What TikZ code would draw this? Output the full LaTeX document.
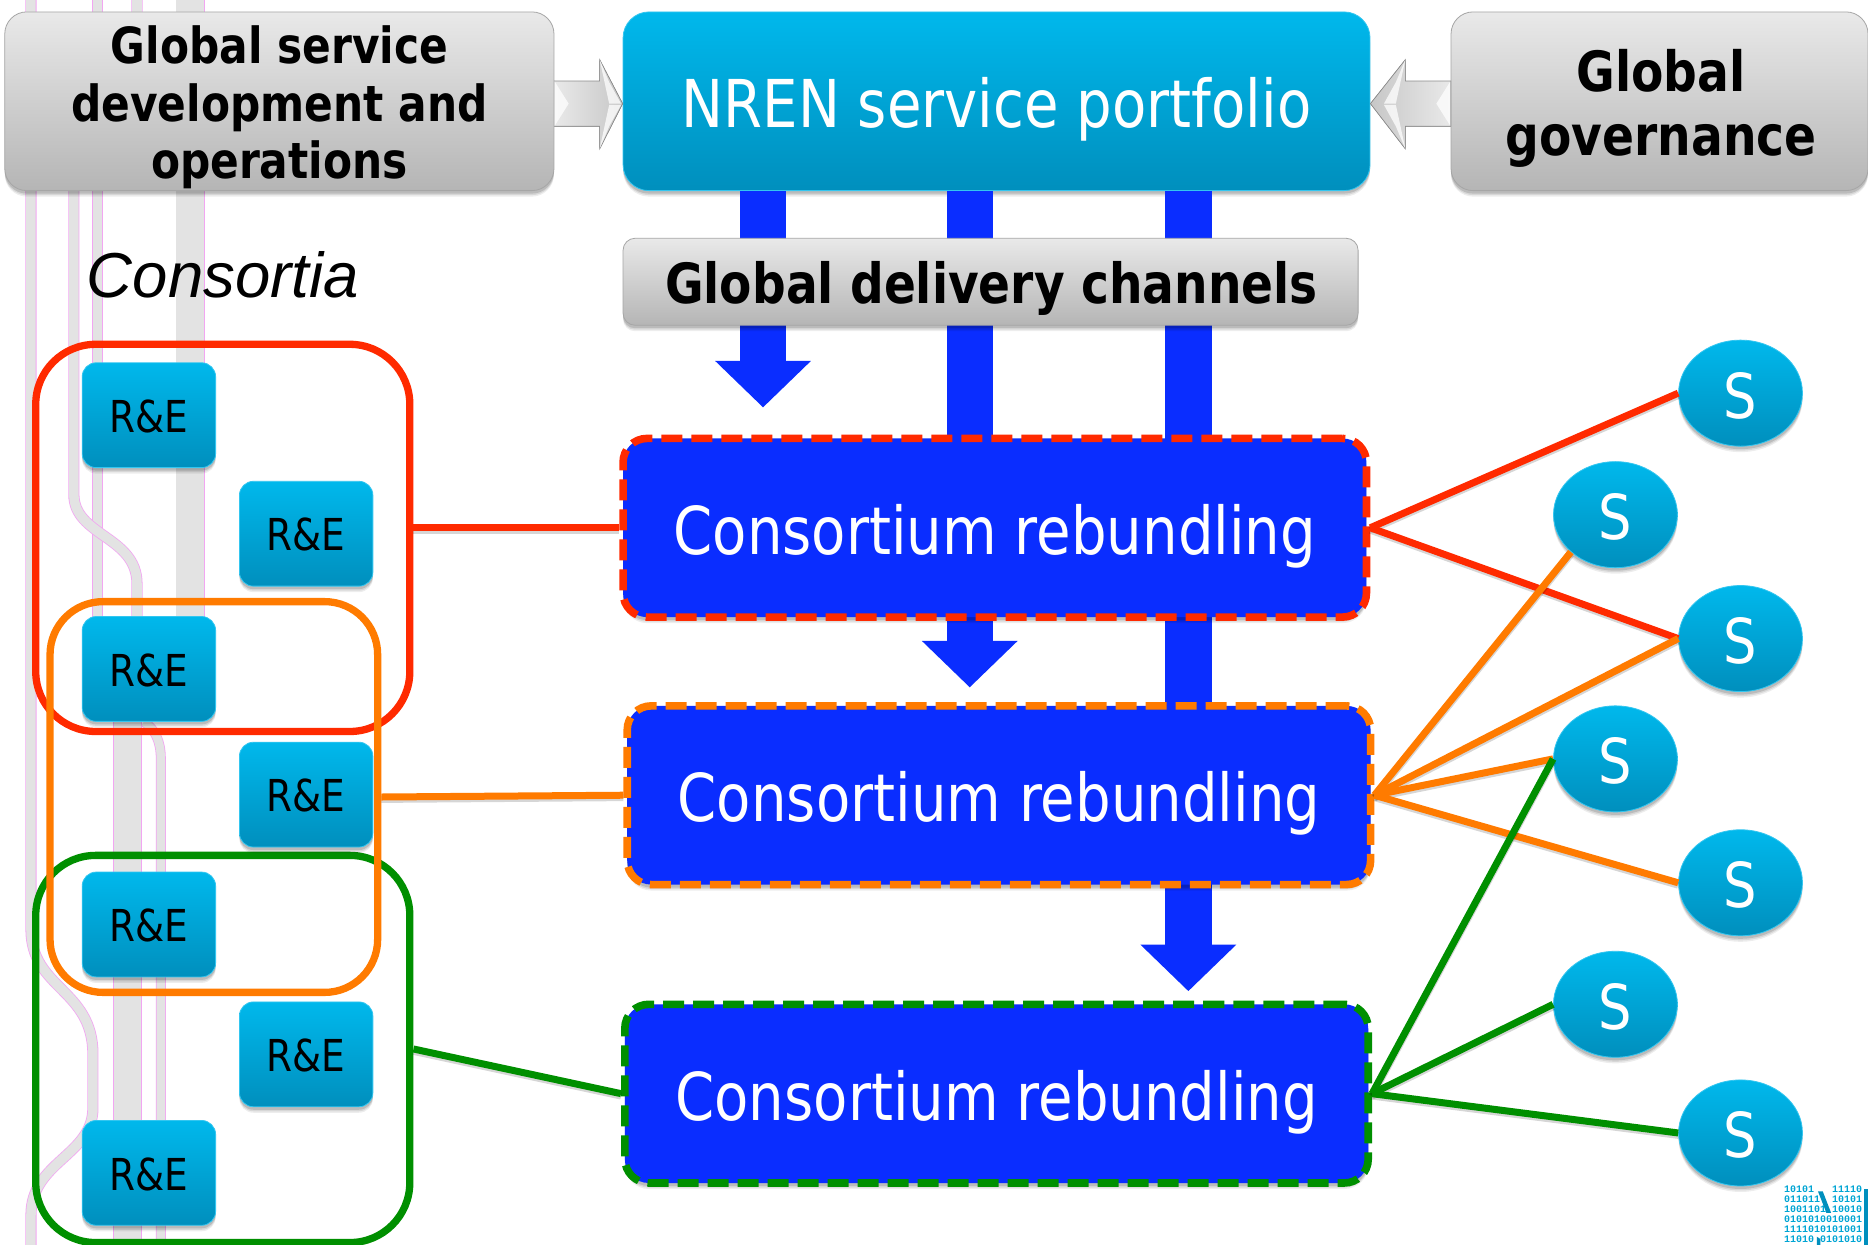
\documentclass[tikz,border=0pt]{standalone}
\usepackage{fontspec}
\setmainfont{Liberation Sans}
\newfontfamily\tah[FakeStretch=0.85]{DejaVu Sans}
\newfontfamily\monof{Liberation Mono}
\usetikzlibrary{shadows,calc,arrows.meta,shapes.geometric}
\newcommand\dnshift[2]{\raisebox{-#1}[\height][\depth]{#2}}
\definecolor{cblue}{HTML}{0A2DFF}
\definecolor{cred}{HTML}{FF2A00}
\definecolor{corange}{HTML}{FF7B00}
\definecolor{cgreen}{HTML}{008F00}
\definecolor{ctop}{HTML}{00B8EC}
\definecolor{cbot}{HTML}{008FBD}
\definecolor{gtop}{HTML}{E9E9E9}
\definecolor{gbot}{HTML}{B5B5B5}
\definecolor{trackc}{HTML}{E3E3E3}
\definecolor{trackedge}{HTML}{F2A6F2}
\tikzset{
  bw/.style={minimum width=#1*1.1913pt},
  bh/.style={minimum height=#1*1.1913pt},
  softshadow/.style={
    drop shadow={shadow xshift=0pt,shadow yshift=-6pt,opacity=.07,fill=black},
    drop shadow={shadow xshift=0pt,shadow yshift=-4.5pt,opacity=.09,fill=black},
    drop shadow={shadow xshift=0pt,shadow yshift=-3pt,opacity=.13,fill=black}},
  panelbase/.style={rectangle,inner sep=0pt,align=center,softshadow},
  cyanbox/.style={panelbase,top color=ctop,bottom color=cbot,draw=ctop!80!white,line width=.8pt},
  graybox/.style={panelbase,top color=gtop,bottom color=gbot,draw=black!35,line width=.8pt},
  rebox/.style={cyanbox,bw=112,bh=88,rounded corners=14pt,font=\tah\fontsize{44}{50}\selectfont,text=black},
  snode/.style={ellipse,inner sep=0pt,bw=104,bh=89,top color=ctop,bottom color=cbot,draw=ctop!80!white,line width=.8pt,softshadow,font=\tah\fontsize{62}{70}\selectfont,text=white},
  crbox/.style={rectangle,inner sep=0pt,fill=cblue,rounded corners=24pt,bw=624,bh=150,line width=7.6pt,dash pattern=on 21pt off 9pt,softshadow,font=\tah\fontsize{66}{72}\selectfont,text=white},
  frame/.style={rectangle,inner sep=0pt,line width=7.3pt},
  track/.style={draw=trackedge,line width=#1*1.1913pt+1.6pt,postaction={draw=trackc,line width=#1*1.1913pt}},
  cline/.style={line width=7pt,preaction={draw=black,opacity=.16,line width=7pt,transform canvas={yshift=-2.4pt}}},
  bluebar/.style={draw=cblue,line width=46.5pt,-{Triangle[length=46.5pt,width=93pt]}},
  garrow/.style={left color=gtop,right color=black!22,draw=black!45,line width=.7pt},
  gbevel/.style={fill=white,opacity=.75}
}
\begin{document}
\begin{tikzpicture}[x=1.1913pt,y=-1.1913pt]
\useasboundingbox (0,0) rectangle (1568,1045);
\fill[white] (0,0) rectangle (1568,1045);
\begin{scope}
\clip (0,0) rectangle (1568,1045);
% faint background tracks
\path[track=8] (26,-5) -- (26,780) .. controls (26,830) and (78,830) .. (78,885) -- (78,930) .. controls (78,970) and (26,975) .. (26,1020) -- (26,1050);
\path[track=8] (82,-5) -- (82,525);
\path[track=8] (115,-5) -- (115,30) -- (62,140) -- (62,415) .. controls (62,450) and (115,450) .. (115,490) -- (115,525);
\path[track=23] (159.5,-5) -- (159.5,530);
\path[track=23] (107,600) -- (107,1050);
\path[track=7] (121,606) .. controls (130,612) and (135,622) .. (135,637) -- (135,1050);

% top row
\node[graybox,rounded corners=22pt,bw=461,bh=150,label={[align=center,inner sep=0pt,yshift=-6pt,font=\tah\bfseries\fontsize{49.8}{57.5}\selectfont]center:{Global service\\development and\\operations}}] (gsd) at (234.5,85) {};
\node[graybox,rounded corners=22pt,bw=350,bh=150,label={[align=center,inner sep=0pt,xshift=1.5pt,yshift=-7pt,font=\tah\bfseries\fontsize{55.5}{64}\selectfont]center:{Global\\governance}}] (gov) at (1393,85) {};
\node[cyanbox,rounded corners=26pt,bw=627,bh=150,font=\tah\fontsize{66}{70}\selectfont,text=white] (nren) at (836.5,85) {\dnshift{8.3pt}{NREN service portfolio}};

% grey block arrows
\filldraw[garrow] ($(gsd.east)+(0,-17)$) -- ++(38,0) -- ++(0,-18) -- ($(nren.west)+(0,2)$) -- ($(gsd.east)+(38,40)$) -- ++(0,-19) -- ($(gsd.east)+(0,21)$) -- cycle;
\fill[gbevel] ($(gsd.east)+(0,-17)$) -- ++(12,19) -- ($(gsd.east)+(0,21)$) -- cycle;
\fill[gbevel] ($(gsd.east)+(38,-35)$) -- ++(8,19) -- ++(10,18) -- ++(-10,0) -- cycle;
\fill[gbevel] ($(gsd.east)+(38,40)$) -- ++(8,-19) -- ++(10,-18) -- ++(-10,0) -- cycle;

\filldraw[garrow,left color=black!22,right color=gtop] ($(gov.west)+(0,-17)$) -- ++(-38,0) -- ++(0,-18) -- ($(nren.east)+(0,2)$) -- ($(gov.west)+(-38,40)$) -- ++(0,-19) -- ($(gov.west)+(0,21)$) -- cycle;
\fill[gbevel] ($(gov.west)+(0,-17)$) -- ++(-12,19) -- ($(gov.west)+(0,21)$) -- cycle;
\fill[gbevel] ($(gov.west)+(-38,-35)$) -- ++(-8,19) -- ++(-10,18) -- ++(10,0) -- cycle;
\fill[gbevel] ($(gov.west)+(-38,40)$) -- ++(-8,-19) -- ++(-10,-18) -- ++(10,0) -- cycle;

% blue delivery columns
\coordinate (tipa) at (640.5,342);
\coordinate (tipb) at (814,577);
\coordinate (tipc) at (997.5,832);
\draw[bluebar] (nren.south -| tipa) -- (tipa);
\draw[bluebar] (nren.south -| tipb) -- (tipb);
\draw[bluebar] (nren.south -| tipc) -- (tipc);

\node[graybox,rounded corners=12pt,bw=617,bh=73,font=\tah\bfseries\fontsize{55.4}{62}\selectfont] (gdc) at (831.5,236.5) {\dnshift{7pt}{\hspace{1.5pt}Global delivery channels}};

% consortium rebundling boxes
\node[crbox,draw=cred] (cra) at (835,443) {\dnshift{8.3pt}{Consortium rebundling}};
\node[crbox,draw=corange] (crb) at (838.5,667.5) {\dnshift{8.3pt}{Consortium rebundling}};
\node[crbox,draw=cgreen] (crc) at (836.5,918) {\dnshift{8.3pt}{Consortium rebundling}};

\node[font=\itshape\fontsize{63.5}{70}\selectfont,inner sep=0pt] (cons) at (187,231) {Consortia};

% consortium frames
\node[frame,draw=cgreen,rounded corners=60pt,bw=314,bh=325] (fgreen) at (187,880.5) {};
\node[frame,draw=cred,rounded corners=60pt,bw=314,bh=325] (fred) at (187,451.5) {};
\node[frame,draw=corange,rounded corners=53pt,bw=275,bh=328] (forange) at (179.5,669) {};

% members
\node[rebox] (ra) at (125,348.5) {\dnshift{1.2pt}{R\&E}};
\node[rebox] (rb) at (257,448) {\dnshift{1.2pt}{R\&E}};
\node[rebox] (rc) at (125,561.5) {\dnshift{1.2pt}{R\&E}};
\node[rebox] (rd) at (257,667) {\dnshift{1.2pt}{R\&E}};
\node[rebox] (re) at (125,776) {\dnshift{1.2pt}{R\&E}};
\node[rebox] (rf) at (257,885) {\dnshift{1.2pt}{R\&E}};
\node[rebox] (rg) at (125,984.5) {\dnshift{1.2pt}{R\&E}};

% suppliers
\node[snode] (sa) at (1461,330) {\dnshift{2.4pt}{S}};
\node[snode] (sb) at (1356,432) {\dnshift{2.4pt}{S}};
\node[snode] (sc) at (1461,536) {\dnshift{2.4pt}{S}};
\node[snode] (sd) at (1356,637) {\dnshift{2.4pt}{S}};
\node[snode] (se) at (1461,741) {\dnshift{2.4pt}{S}};
\node[snode] (sf) at (1356,843) {\dnshift{2.4pt}{S}};
\node[snode] (sg) at (1461,951) {\dnshift{2.4pt}{S}};

% connectors
\draw[cline,cred] (fred.east |- cra.west) -- (cra.west);
\draw[cline,corange] (forange.east) -- (crb.west);
\draw[cline,cgreen] (fgreen.east) -- (crc.west);

\draw[cline,cred] (cra.east) -- (sa.west);
\draw[cline,cred] (cra.east) -- (sc.west);
\draw[cline,corange] (crb.east) -- (sb.220);
\draw[cline,corange] (crb.east) -- (sc.west);
\draw[cline,corange] (crb.east) -- (sd.west);
\draw[cline,corange] (crb.east) -- (se.west);
\draw[cline,cgreen] (crc.east) -- (sd.west);
\draw[cline,cgreen] (crc.east) -- (sf.west);
\draw[cline,cgreen] (crc.east) -- (sg.west);

% binary logo
\node[anchor=north west,inner sep=0pt,align=left,text=ctop!90!black,font=\monof\bfseries\fontsize{10}{9.9}\selectfont] (logo) at (1497.5,995.5) {10101\hphantom{00}\hphantom{0}11110\\011011\hphantom{0}\hphantom{0}10101\\1001101\hphantom{0}10010\\0101010010001\\1111010101001\\11010\hphantom{0}0101010};
\fill[cbot] (1564.5,998) rectangle (1568,1045);
\fill[cbot] (1526,1000) -- (1530,1000) -- (1537,1018) -- (1533,1018) -- cycle;
\fill[cbot] (1525,1038) -- (1528,1040) -- (1528,1045) -- (1525,1045) -- cycle;
\end{scope}
\end{tikzpicture}
\end{document}
